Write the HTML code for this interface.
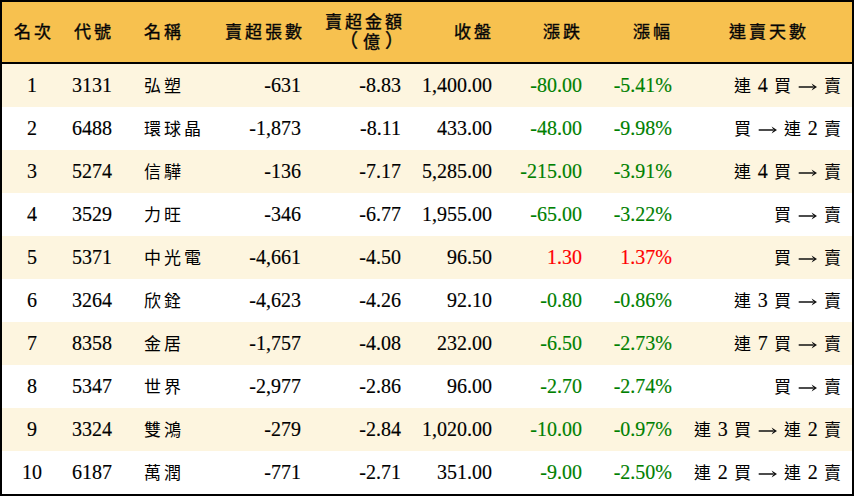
<!DOCTYPE html><html lang="zh-TW"><head><meta charset="utf-8"><style>
*{margin:0;padding:0;box-sizing:border-box}
html,body{width:854px;height:496px;overflow:hidden;background:#fff}
body{font-family:"Liberation Serif",serif;color:#000;font-size:20px;position:relative}
.frame{position:absolute;left:0;top:0;width:854px;height:496px;border:2px solid #000}
.hdr{position:absolute;left:0;top:0;width:854px;height:62px;background:#f7c14f}
.hline{position:absolute;left:0;top:62px;width:854px;height:2px;background:#000}
.row{position:absolute;left:0;width:854px;height:43px}
.row.c{background:#fdf5df}
.t{position:absolute;white-space:nowrap;line-height:43px;top:0;-webkit-text-stroke:0.15px}
.k{position:absolute;width:20px;text-align:center;white-space:nowrap}
.r{text-align:right}
.ctr{text-align:center}
.g{color:#008000}
.red{color:#ff0000}
</style></head><body>

<div class="hdr"></div><div class="hline"></div>
<div class="k" style="left:12.00px;top:24.10px;font-size:17px;line-height:17px;height:17px;font-weight:normal;-webkit-text-stroke:0.4px #111">名</div><div class="k" style="left:32.00px;top:24.10px;font-size:17px;line-height:17px;height:17px;font-weight:normal;-webkit-text-stroke:0.4px #111">次</div>
<div class="k" style="left:72.00px;top:24.10px;font-size:17px;line-height:17px;height:17px;font-weight:normal;-webkit-text-stroke:0.4px #111">代</div><div class="k" style="left:92.00px;top:24.10px;font-size:17px;line-height:17px;height:17px;font-weight:normal;-webkit-text-stroke:0.4px #111">號</div>
<div class="k" style="left:142.00px;top:24.10px;font-size:17px;line-height:17px;height:17px;font-weight:normal;-webkit-text-stroke:0.4px #111">名</div><div class="k" style="left:162.00px;top:24.10px;font-size:17px;line-height:17px;height:17px;font-weight:normal;-webkit-text-stroke:0.4px #111">稱</div>
<div class="k" style="left:223.00px;top:24.10px;font-size:17px;line-height:17px;height:17px;font-weight:normal;-webkit-text-stroke:0.4px #111">賣</div><div class="k" style="left:243.00px;top:24.10px;font-size:17px;line-height:17px;height:17px;font-weight:normal;-webkit-text-stroke:0.4px #111">超</div><div class="k" style="left:263.00px;top:24.10px;font-size:17px;line-height:17px;height:17px;font-weight:normal;-webkit-text-stroke:0.4px #111">張</div><div class="k" style="left:283.00px;top:24.10px;font-size:17px;line-height:17px;height:17px;font-weight:normal;-webkit-text-stroke:0.4px #111">數</div>
<div class="k" style="left:323.00px;top:13.60px;font-size:17px;line-height:17px;height:17px;font-weight:normal;-webkit-text-stroke:0.4px #111">賣</div><div class="k" style="left:343.00px;top:13.60px;font-size:17px;line-height:17px;height:17px;font-weight:normal;-webkit-text-stroke:0.4px #111">超</div><div class="k" style="left:363.00px;top:13.60px;font-size:17px;line-height:17px;height:17px;font-weight:normal;-webkit-text-stroke:0.4px #111">金</div><div class="k" style="left:383.00px;top:13.60px;font-size:17px;line-height:17px;height:17px;font-weight:normal;-webkit-text-stroke:0.4px #111">額</div>
<div class="k" style="left:338.00px;top:32.30px;font-size:19px;line-height:19px;height:19px;font-weight:normal;-webkit-text-stroke:0.4px #111">（</div>
<div class="k" style="left:361.50px;top:33.80px;font-size:17px;line-height:17px;height:17px;font-weight:normal;-webkit-text-stroke:0.4px #111">億</div>
<div class="k" style="left:384.50px;top:32.30px;font-size:19px;line-height:19px;height:19px;font-weight:normal;-webkit-text-stroke:0.4px #111">）</div>
<div class="k" style="left:452.00px;top:24.10px;font-size:17px;line-height:17px;height:17px;font-weight:normal;-webkit-text-stroke:0.4px #111">收</div><div class="k" style="left:472.00px;top:24.10px;font-size:17px;line-height:17px;height:17px;font-weight:normal;-webkit-text-stroke:0.4px #111">盤</div>
<div class="k" style="left:541.50px;top:24.10px;font-size:17px;line-height:17px;height:17px;font-weight:normal;-webkit-text-stroke:0.4px #111">漲</div><div class="k" style="left:561.50px;top:24.10px;font-size:17px;line-height:17px;height:17px;font-weight:normal;-webkit-text-stroke:0.4px #111">跌</div>
<div class="k" style="left:631.50px;top:24.10px;font-size:17px;line-height:17px;height:17px;font-weight:normal;-webkit-text-stroke:0.4px #111">漲</div><div class="k" style="left:651.50px;top:24.10px;font-size:17px;line-height:17px;height:17px;font-weight:normal;-webkit-text-stroke:0.4px #111">幅</div>
<div class="k" style="left:727.00px;top:24.10px;font-size:17px;line-height:17px;height:17px;font-weight:normal;-webkit-text-stroke:0.4px #111">連</div><div class="k" style="left:747.00px;top:24.10px;font-size:17px;line-height:17px;height:17px;font-weight:normal;-webkit-text-stroke:0.4px #111">賣</div><div class="k" style="left:767.00px;top:24.10px;font-size:17px;line-height:17px;height:17px;font-weight:normal;-webkit-text-stroke:0.4px #111">天</div><div class="k" style="left:787.00px;top:24.10px;font-size:17px;line-height:17px;height:17px;font-weight:normal;-webkit-text-stroke:0.4px #111">數</div>
<div class="row c" style="top:64px">
<div class="t ctr" style="left:2px;width:60px">1</div>
<div class="t" style="left:72px">3131</div>
<div class="k" style="left:142.00px;top:14.00px;font-size:17px;line-height:17px;height:17px;font-weight:normal">弘</div><div class="k" style="left:162.00px;top:14.00px;font-size:17px;line-height:17px;height:17px;font-weight:normal">塑</div>
<div class="t r" style="left:0;width:301px">-631</div>
<div class="t r" style="left:0;width:401px">-8.83</div>
<div class="t r" style="left:0;width:492px">1,400.00</div>
<div class="t r g" style="left:0;width:582px">-80.00</div>
<div class="t r g" style="left:0;width:672px">-5.41%</div>
<div class="k" style="left:732.70px;top:14.00px;font-size:17px;line-height:17px;height:17px;font-weight:normal">連</div><div class="t" style="left:757.70px">4</div><div class="k" style="left:772.70px;top:14.00px;font-size:17px;line-height:17px;height:17px;font-weight:normal">買</div><svg width="20" height="10" viewBox="0 0 20 10" style="position:absolute;left:797.70px;top:17.70px"><path d="M0.7 5H15" stroke="#111" stroke-width="1.5"/><path d="M13.6 1.4L19 5L13.6 8.6L15.6 5Z" fill="#111"/></svg><div class="k" style="left:822.70px;top:14.00px;font-size:17px;line-height:17px;height:17px;font-weight:normal">賣</div>
</div>
<div class="row" style="top:107px">
<div class="t ctr" style="left:2px;width:60px">2</div>
<div class="t" style="left:72px">6488</div>
<div class="k" style="left:142.00px;top:14.00px;font-size:17px;line-height:17px;height:17px;font-weight:normal">環</div><div class="k" style="left:162.00px;top:14.00px;font-size:17px;line-height:17px;height:17px;font-weight:normal">球</div><div class="k" style="left:182.00px;top:14.00px;font-size:17px;line-height:17px;height:17px;font-weight:normal">晶</div>
<div class="t r" style="left:0;width:301px">-1,873</div>
<div class="t r" style="left:0;width:401px">-8.11</div>
<div class="t r" style="left:0;width:492px">433.00</div>
<div class="t r g" style="left:0;width:582px">-48.00</div>
<div class="t r g" style="left:0;width:672px">-9.98%</div>
<div class="k" style="left:732.70px;top:14.00px;font-size:17px;line-height:17px;height:17px;font-weight:normal">買</div><svg width="20" height="10" viewBox="0 0 20 10" style="position:absolute;left:757.70px;top:17.70px"><path d="M0.7 5H15" stroke="#111" stroke-width="1.5"/><path d="M13.6 1.4L19 5L13.6 8.6L15.6 5Z" fill="#111"/></svg><div class="k" style="left:782.70px;top:14.00px;font-size:17px;line-height:17px;height:17px;font-weight:normal">連</div><div class="t" style="left:807.70px">2</div><div class="k" style="left:822.70px;top:14.00px;font-size:17px;line-height:17px;height:17px;font-weight:normal">賣</div>
</div>
<div class="row c" style="top:150px">
<div class="t ctr" style="left:2px;width:60px">3</div>
<div class="t" style="left:72px">5274</div>
<div class="k" style="left:142.00px;top:14.00px;font-size:17px;line-height:17px;height:17px;font-weight:normal">信</div><div class="k" style="left:162.00px;top:14.00px;font-size:17px;line-height:17px;height:17px;font-weight:normal">驊</div>
<div class="t r" style="left:0;width:301px">-136</div>
<div class="t r" style="left:0;width:401px">-7.17</div>
<div class="t r" style="left:0;width:492px">5,285.00</div>
<div class="t r g" style="left:0;width:582px">-215.00</div>
<div class="t r g" style="left:0;width:672px">-3.91%</div>
<div class="k" style="left:732.70px;top:14.00px;font-size:17px;line-height:17px;height:17px;font-weight:normal">連</div><div class="t" style="left:757.70px">4</div><div class="k" style="left:772.70px;top:14.00px;font-size:17px;line-height:17px;height:17px;font-weight:normal">買</div><svg width="20" height="10" viewBox="0 0 20 10" style="position:absolute;left:797.70px;top:17.70px"><path d="M0.7 5H15" stroke="#111" stroke-width="1.5"/><path d="M13.6 1.4L19 5L13.6 8.6L15.6 5Z" fill="#111"/></svg><div class="k" style="left:822.70px;top:14.00px;font-size:17px;line-height:17px;height:17px;font-weight:normal">賣</div>
</div>
<div class="row" style="top:193px">
<div class="t ctr" style="left:2px;width:60px">4</div>
<div class="t" style="left:72px">3529</div>
<div class="k" style="left:142.00px;top:14.00px;font-size:17px;line-height:17px;height:17px;font-weight:normal">力</div><div class="k" style="left:162.00px;top:14.00px;font-size:17px;line-height:17px;height:17px;font-weight:normal">旺</div>
<div class="t r" style="left:0;width:301px">-346</div>
<div class="t r" style="left:0;width:401px">-6.77</div>
<div class="t r" style="left:0;width:492px">1,955.00</div>
<div class="t r g" style="left:0;width:582px">-65.00</div>
<div class="t r g" style="left:0;width:672px">-3.22%</div>
<div class="k" style="left:772.70px;top:14.00px;font-size:17px;line-height:17px;height:17px;font-weight:normal">買</div><svg width="20" height="10" viewBox="0 0 20 10" style="position:absolute;left:797.70px;top:17.70px"><path d="M0.7 5H15" stroke="#111" stroke-width="1.5"/><path d="M13.6 1.4L19 5L13.6 8.6L15.6 5Z" fill="#111"/></svg><div class="k" style="left:822.70px;top:14.00px;font-size:17px;line-height:17px;height:17px;font-weight:normal">賣</div>
</div>
<div class="row c" style="top:236px">
<div class="t ctr" style="left:2px;width:60px">5</div>
<div class="t" style="left:72px">5371</div>
<div class="k" style="left:142.00px;top:14.00px;font-size:17px;line-height:17px;height:17px;font-weight:normal">中</div><div class="k" style="left:162.00px;top:14.00px;font-size:17px;line-height:17px;height:17px;font-weight:normal">光</div><div class="k" style="left:182.00px;top:14.00px;font-size:17px;line-height:17px;height:17px;font-weight:normal">電</div>
<div class="t r" style="left:0;width:301px">-4,661</div>
<div class="t r" style="left:0;width:401px">-4.50</div>
<div class="t r" style="left:0;width:492px">96.50</div>
<div class="t r red" style="left:0;width:582px">1.30</div>
<div class="t r red" style="left:0;width:672px">1.37%</div>
<div class="k" style="left:772.70px;top:14.00px;font-size:17px;line-height:17px;height:17px;font-weight:normal">買</div><svg width="20" height="10" viewBox="0 0 20 10" style="position:absolute;left:797.70px;top:17.70px"><path d="M0.7 5H15" stroke="#111" stroke-width="1.5"/><path d="M13.6 1.4L19 5L13.6 8.6L15.6 5Z" fill="#111"/></svg><div class="k" style="left:822.70px;top:14.00px;font-size:17px;line-height:17px;height:17px;font-weight:normal">賣</div>
</div>
<div class="row" style="top:279px">
<div class="t ctr" style="left:2px;width:60px">6</div>
<div class="t" style="left:72px">3264</div>
<div class="k" style="left:142.00px;top:14.00px;font-size:17px;line-height:17px;height:17px;font-weight:normal">欣</div><div class="k" style="left:162.00px;top:14.00px;font-size:17px;line-height:17px;height:17px;font-weight:normal">銓</div>
<div class="t r" style="left:0;width:301px">-4,623</div>
<div class="t r" style="left:0;width:401px">-4.26</div>
<div class="t r" style="left:0;width:492px">92.10</div>
<div class="t r g" style="left:0;width:582px">-0.80</div>
<div class="t r g" style="left:0;width:672px">-0.86%</div>
<div class="k" style="left:732.70px;top:14.00px;font-size:17px;line-height:17px;height:17px;font-weight:normal">連</div><div class="t" style="left:757.70px">3</div><div class="k" style="left:772.70px;top:14.00px;font-size:17px;line-height:17px;height:17px;font-weight:normal">買</div><svg width="20" height="10" viewBox="0 0 20 10" style="position:absolute;left:797.70px;top:17.70px"><path d="M0.7 5H15" stroke="#111" stroke-width="1.5"/><path d="M13.6 1.4L19 5L13.6 8.6L15.6 5Z" fill="#111"/></svg><div class="k" style="left:822.70px;top:14.00px;font-size:17px;line-height:17px;height:17px;font-weight:normal">賣</div>
</div>
<div class="row c" style="top:322px">
<div class="t ctr" style="left:2px;width:60px">7</div>
<div class="t" style="left:72px">8358</div>
<div class="k" style="left:142.00px;top:14.00px;font-size:17px;line-height:17px;height:17px;font-weight:normal">金</div><div class="k" style="left:162.00px;top:14.00px;font-size:17px;line-height:17px;height:17px;font-weight:normal">居</div>
<div class="t r" style="left:0;width:301px">-1,757</div>
<div class="t r" style="left:0;width:401px">-4.08</div>
<div class="t r" style="left:0;width:492px">232.00</div>
<div class="t r g" style="left:0;width:582px">-6.50</div>
<div class="t r g" style="left:0;width:672px">-2.73%</div>
<div class="k" style="left:732.70px;top:14.00px;font-size:17px;line-height:17px;height:17px;font-weight:normal">連</div><div class="t" style="left:757.70px">7</div><div class="k" style="left:772.70px;top:14.00px;font-size:17px;line-height:17px;height:17px;font-weight:normal">買</div><svg width="20" height="10" viewBox="0 0 20 10" style="position:absolute;left:797.70px;top:17.70px"><path d="M0.7 5H15" stroke="#111" stroke-width="1.5"/><path d="M13.6 1.4L19 5L13.6 8.6L15.6 5Z" fill="#111"/></svg><div class="k" style="left:822.70px;top:14.00px;font-size:17px;line-height:17px;height:17px;font-weight:normal">賣</div>
</div>
<div class="row" style="top:365px">
<div class="t ctr" style="left:2px;width:60px">8</div>
<div class="t" style="left:72px">5347</div>
<div class="k" style="left:142.00px;top:14.00px;font-size:17px;line-height:17px;height:17px;font-weight:normal">世</div><div class="k" style="left:162.00px;top:14.00px;font-size:17px;line-height:17px;height:17px;font-weight:normal">界</div>
<div class="t r" style="left:0;width:301px">-2,977</div>
<div class="t r" style="left:0;width:401px">-2.86</div>
<div class="t r" style="left:0;width:492px">96.00</div>
<div class="t r g" style="left:0;width:582px">-2.70</div>
<div class="t r g" style="left:0;width:672px">-2.74%</div>
<div class="k" style="left:772.70px;top:14.00px;font-size:17px;line-height:17px;height:17px;font-weight:normal">買</div><svg width="20" height="10" viewBox="0 0 20 10" style="position:absolute;left:797.70px;top:17.70px"><path d="M0.7 5H15" stroke="#111" stroke-width="1.5"/><path d="M13.6 1.4L19 5L13.6 8.6L15.6 5Z" fill="#111"/></svg><div class="k" style="left:822.70px;top:14.00px;font-size:17px;line-height:17px;height:17px;font-weight:normal">賣</div>
</div>
<div class="row c" style="top:408px">
<div class="t ctr" style="left:2px;width:60px">9</div>
<div class="t" style="left:72px">3324</div>
<div class="k" style="left:142.00px;top:14.00px;font-size:17px;line-height:17px;height:17px;font-weight:normal">雙</div><div class="k" style="left:162.00px;top:14.00px;font-size:17px;line-height:17px;height:17px;font-weight:normal">鴻</div>
<div class="t r" style="left:0;width:301px">-279</div>
<div class="t r" style="left:0;width:401px">-2.84</div>
<div class="t r" style="left:0;width:492px">1,020.00</div>
<div class="t r g" style="left:0;width:582px">-10.00</div>
<div class="t r g" style="left:0;width:672px">-0.97%</div>
<div class="k" style="left:692.70px;top:14.00px;font-size:17px;line-height:17px;height:17px;font-weight:normal">連</div><div class="t" style="left:717.70px">3</div><div class="k" style="left:732.70px;top:14.00px;font-size:17px;line-height:17px;height:17px;font-weight:normal">買</div><svg width="20" height="10" viewBox="0 0 20 10" style="position:absolute;left:757.70px;top:17.70px"><path d="M0.7 5H15" stroke="#111" stroke-width="1.5"/><path d="M13.6 1.4L19 5L13.6 8.6L15.6 5Z" fill="#111"/></svg><div class="k" style="left:782.70px;top:14.00px;font-size:17px;line-height:17px;height:17px;font-weight:normal">連</div><div class="t" style="left:807.70px">2</div><div class="k" style="left:822.70px;top:14.00px;font-size:17px;line-height:17px;height:17px;font-weight:normal">賣</div>
</div>
<div class="row" style="top:451px">
<div class="t ctr" style="left:2px;width:60px">10</div>
<div class="t" style="left:72px">6187</div>
<div class="k" style="left:142.00px;top:14.00px;font-size:17px;line-height:17px;height:17px;font-weight:normal">萬</div><div class="k" style="left:162.00px;top:14.00px;font-size:17px;line-height:17px;height:17px;font-weight:normal">潤</div>
<div class="t r" style="left:0;width:301px">-771</div>
<div class="t r" style="left:0;width:401px">-2.71</div>
<div class="t r" style="left:0;width:492px">351.00</div>
<div class="t r g" style="left:0;width:582px">-9.00</div>
<div class="t r g" style="left:0;width:672px">-2.50%</div>
<div class="k" style="left:692.70px;top:14.00px;font-size:17px;line-height:17px;height:17px;font-weight:normal">連</div><div class="t" style="left:717.70px">2</div><div class="k" style="left:732.70px;top:14.00px;font-size:17px;line-height:17px;height:17px;font-weight:normal">買</div><svg width="20" height="10" viewBox="0 0 20 10" style="position:absolute;left:757.70px;top:17.70px"><path d="M0.7 5H15" stroke="#111" stroke-width="1.5"/><path d="M13.6 1.4L19 5L13.6 8.6L15.6 5Z" fill="#111"/></svg><div class="k" style="left:782.70px;top:14.00px;font-size:17px;line-height:17px;height:17px;font-weight:normal">連</div><div class="t" style="left:807.70px">2</div><div class="k" style="left:822.70px;top:14.00px;font-size:17px;line-height:17px;height:17px;font-weight:normal">賣</div>
</div>
<div class="frame"></div>
</body></html>
